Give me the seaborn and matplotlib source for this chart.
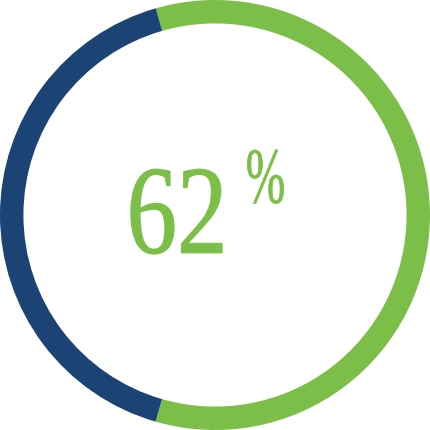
import matplotlib
matplotlib.use("Agg")
import matplotlib.pyplot as plt
import seaborn as sns
from matplotlib.patheffects import AbstractPathEffect
from matplotlib.transforms import Affine2D

# ---- data ----
segment_names = ["Done", "Remaining"]
segment_shares = [58.9, 41.1]          # shares of the ring as drawn
segment_colors = ["#7bbf48", "#1b4474"]
value_label = "62"
unit_label = "%"

sns.set_style("white")
plt.rcParams["font.family"] = ["Liberation Serif", "DejaVu Serif"]


class Squeeze(AbstractPathEffect):
    """Horizontally condense a text path around its own centre (optional thin outline)."""
    def __init__(self, sx, lw=0.0):
        super().__init__()
        self.sx = sx
        self.lw = lw

    def draw_path(self, renderer, gc, tpath, affine, rgbFace=None):
        ext = tpath.get_extents(affine)
        cx = 0.5 * (ext.x0 + ext.x1)
        t = affine + Affine2D().translate(-cx, 0).scale(self.sx, 1).translate(cx, 0)
        gc0 = renderer.new_gc()
        gc0.copy_properties(gc)
        if self.lw > 0 and rgbFace is not None:
            gc0.set_linewidth(self.lw)
            gc0.set_foreground(rgbFace)
        renderer.draw_path(gc0, tpath, t.frozen(), rgbFace)
        gc0.restore()


fig = plt.figure(figsize=(4.3, 4.3), dpi=100)
ax = fig.add_axes([0, 0, 1, 1])
ax.pie(segment_shares, colors=segment_colors, startangle=106, counterclock=False,
       radius=1.0, wedgeprops=dict(width=0.109, linewidth=0, edgecolor="none"))
ax.set_xlim(-1, 1)
ax.set_ylim(-1, 1)
ax.set_aspect("equal")
ax.axis("off")

green = segment_colors[0]
ax.text(-0.176, -0.176, value_label, ha="center", va="baseline", fontsize=91,
        color=green, path_effects=[Squeeze(0.8, lw=0.8)])
ax.text(0.235, 0.058, unit_label, ha="center", va="baseline", fontsize=57,
        color=green, path_effects=[Squeeze(0.6, lw=0.5)])

fig.savefig("out.png", dpi=100, facecolor="white")
